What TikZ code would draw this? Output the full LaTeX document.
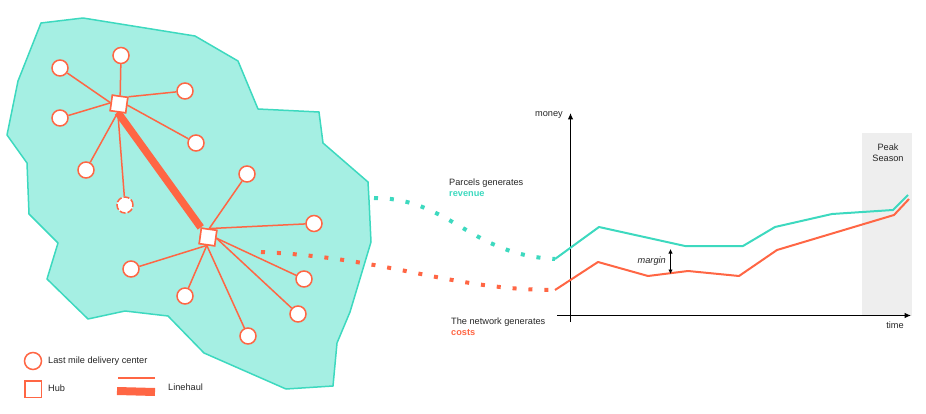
\documentclass[tikz,border=0pt]{standalone}
\usepackage{fontspec}
\setmainfont{Liberation Sans}
\usetikzlibrary{arrows.meta}
\definecolor{tealline}{HTML}{3DD9BF}
\definecolor{tealfill}{HTML}{A5EFE3}
\definecolor{redline}{HTML}{FF6644}
\definecolor{peakgray}{HTML}{EEEEEE}
\tikzset{
  center/.style={circle,draw=redline,fill=white,line width=1.5pt,minimum size=16pt,inner sep=0pt},
  hub/.style={rectangle,draw=redline,fill=white,line width=1.5pt,minimum size=15.5pt,inner sep=0pt},
  spoke/.style={redline,line width=1.5pt},
  haul/.style={redline,line width=7.5pt},
  dots/.style={line width=4pt,dash pattern=on 4pt off 11.9pt},
  lab/.style={font=\fontsize{9.2}{10}\selectfont,text=black!85,inner sep=0pt},
  curve/.style={line width=2pt,line join=round},
  axis/.style={black,line width=1pt,-{Latex[length=6.5pt,width=5.5pt]}}
}
\begin{document}
\begin{tikzpicture}[x=1pt,y=-1pt]
\useasboundingbox (0,0) rectangle (926,414);
% region
\draw[tealline,fill=tealfill,line width=1.5pt,line join=round] (41,23) -- (83,18) -- (195,36) -- (238,61) -- (258,109) -- (319,112) -- (323,143) -- (368,182) -- (369,200) -- (371,242) -- (350,312) -- (337,343) -- (333,386) -- (286,389) -- (204,353) -- (168,316) -- (125,311) -- (88,319) -- (47,279) -- (58,243) -- (29,214) -- (27,163) -- (7,135) -- (18,81) -- cycle;
% hubs and centers
\node[hub,rotate=-8] (hubA) at (119,104) {};
\node[hub,rotate=-8] (hubB) at (208,237) {};
\foreach \n/\x/\y/\a in {a1/60/68/west,a2/121/55.5/north,a3/185/91/north east,a4/196/143/east,a5/86/170/south,a6/60/118/west}{
  \node[center] (\n) at (\x,\y) {};
  \draw[spoke] (hubA.\a) -- (\n);
}
\node[center,dash pattern=on 6pt off 2pt] (a7) at (125,205) {};
\draw[spoke] (hubA.south) -- (a7);
\foreach \n/\x/\y/\a in {b1/247/174/north,b2/314/223.5/north,b3/304/279/east,b4/298/314/east,b5/248/336/south,b6/185/296/south,b7/131/269/south}{
  \node[center] (\n) at (\x,\y) {};
  \draw[spoke] (hubB.\a) -- (\n);
}
\draw[haul] (hubA.south) -- (hubB.north west);
\node[hub,rotate=-8] at (hubA) {};
\node[hub,rotate=-8] at (hubB) {};
% legend
\node[center,minimum size=17pt] (legC) at (33,361) {};
\node[hub,minimum size=16.5pt] (legH) at (33,389) {};
\node[lab,anchor=west] (legCt) at (48,361) {Last mile delivery center};
\node[lab,anchor=west] (legHt) at (48,388) {Hub};
\node[lab,anchor=west] (legLt) at (168,387) {Linehaul};
\coordinate (la) at (118,378);
\coordinate (lb) at (155,378);
\coordinate (lc) at (117,391);
\coordinate (ld) at (155,392);
\draw[spoke] (la) -- (lb);
\draw[redline,line width=8pt] (lc) -- (ld);
% chart
\fill[peakgray] (862,133) rectangle (912,315.5);
\coordinate (yb) at (570.5,322);
\coordinate (yt) at (570.5,113);
\coordinate (xb) at (557,315.5);
\coordinate (xt) at (911,315.5);
\draw[axis] (yb) -- (yt);
\draw[axis] (xb) -- (xt);
\node[lab,anchor=east] (money) at (563,114.5) {money};
\node[lab] (time) at (895,325.5) {time};
\node[lab,align=center] (peak) at (888,152.5) {Peak\\[1.2pt]Season};
% curves
\coordinate (t0) at (555,259);
\coordinate (r0) at (555,290);
\draw[curve,tealline] (t0) -- (599,227) -- (685,246) -- (743,246) -- (775,227) -- (832,214) -- (893,210) -- (908,195);
\draw[curve,redline] (r0) -- (598,262) -- (648,276) -- (688,271) -- (739,276) -- (777,250) -- (894,215) -- (909,199);
\coordinate (mt) at (670.5,249);
\coordinate (mb) at (670.5,274);
\draw[black,line width=0.8pt,{Latex[length=4.5pt,width=4.5pt]}-{Latex[length=4.5pt,width=4.5pt]}] (mt) -- (mb);
\node[lab,font=\fontsize{9.2}{10}\selectfont\itshape,anchor=east] (margin) at (666,261) {margin};
% links
\coordinate (ts) at (374,198);
\coordinate (rs) at (261,252);
\draw[dots,tealline] (ts) .. controls (450,198) and (470,255) .. (t0);
\draw[dots,redline] (rs) .. controls (390,258) and (450,290) .. (r0);
\node[lab,anchor=west] (parcels) at (449,183) {Parcels generates};
\node[lab,anchor=west,text=tealline,font=\fontsize{9.2}{10}\selectfont\bfseries] (revenue) at (449,194) {revenue};
\node[lab,anchor=west] (network) at (451,322) {The network generates};
\node[lab,anchor=west,text=redline,font=\fontsize{9.2}{10}\selectfont\bfseries] (costs) at (451,333) {costs};
\end{tikzpicture}
\end{document}
